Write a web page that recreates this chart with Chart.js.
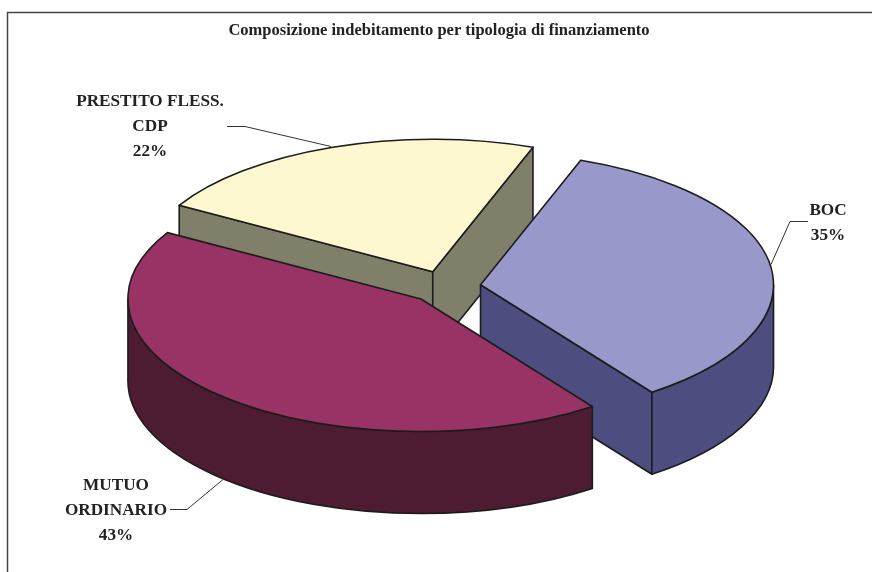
<!DOCTYPE html>
<html>
<head>
<meta charset="utf-8">
<style>html,body{margin:0;padding:0;background:#fff}canvas{display:block}</style>
<script src="https://cdn.jsdelivr.net/npm/chart.js@4"></script>
</head>
<body>
<canvas id="c" width="872" height="572"></canvas>
<script>
const chartTitle = 'Composizione indebitamento per tipologia di finanziamento';
const categories = ['BOC', 'MUTUO ORDINARIO', 'PRESTITO FLESS. CDP'];
const shares = [34.5, 43.3, 22.2];
const labelLines = [['BOC'], ['MUTUO', 'ORDINARIO'], ['PRESTITO FLESS.', 'CDP']];
const topColors = ['#9898cb', '#993366', '#fdf8cf'];
const wallColors = ['#4d4d80', '#4d1c32', '#80806a'];

const view = { cx: 445, cy: 287, rx: 293, ry: 132.5, depth: 82, explode: 0.1224 };
const ink = '#1c1c1c', serif = '"Liberation Serif","Times New Roman",serif';
const labelBoxes = [
  { x: 828, y: 210.5, leader: [[808, 221], [790, 221], [771, 264]] },
  { x: 116, y: 485.5, leader: [[170, 509], [187, 509], [223, 479]] },
  { x: 150, y: 102, leader: [[227, 126], [245, 126], [331, 146]] }
];

const pie3d = {
  id: 'pie3d',
  beforeDraw(chart) {
    const c = chart.ctx;
    c.save();
    c.strokeStyle = '#444'; c.lineWidth = 1.5;
    c.beginPath(); c.moveTo(7.5, 572); c.lineTo(7.5, 12.5); c.lineTo(872, 12.5); c.stroke();
    c.restore();
  },
  beforeDatasetsDraw(chart) {
    const c = chart.ctx, arcs = chart.getDatasetMeta(0).data;
    const base = { x: arcs[0].x, y: arcs[0].y };
    const geo = arcs.map((el, i) => {
      const p = el.getProps(['startAngle', 'endAngle', 'outerRadius'], true);
      const mid = (p.startAngle + p.endAngle) / 2, o = view.explode * p.outerRadius;
      el.x = base.x + o * Math.cos(mid);
      el.y = base.y + o * Math.sin(mid);
      const sx = view.rx / p.outerRadius, sy = view.ry / p.outerRadius;
      return { i, p, mid, sx, sy, x: view.cx + sx * o * Math.cos(mid), y: view.cy + sy * o * Math.sin(mid) };
    });
    chart.$geo = geo;
    const d = view.depth;
    [...geo].sort((a, b) => Math.sin(a.mid) - Math.sin(b.mid)).forEach(g => {
      const a0 = g.p.startAngle, a1 = g.p.endAngle;
      const face = a => {
        const px = g.x + view.rx * Math.cos(a), py = g.y + view.ry * Math.sin(a);
        c.beginPath(); c.moveTo(g.x, g.y); c.lineTo(px, py); c.lineTo(px, py + d); c.lineTo(g.x, g.y + d); c.closePath();
        c.fill(); c.stroke();
      };
      c.save();
      c.fillStyle = wallColors[g.i]; c.strokeStyle = ink; c.lineWidth = 1.6; c.lineJoin = 'round';
      if (Math.sin(a0 - Math.PI / 2) > 0) face(a0);
      if (Math.sin(a1 + Math.PI / 2) > 0) face(a1);
      for (let k = -1; k <= 2; k++) {
        const lo = Math.max(a0, k * 2 * Math.PI), hi = Math.min(a1, k * 2 * Math.PI + Math.PI);
        if (hi > lo) {
          c.beginPath();
          c.ellipse(g.x, g.y, view.rx, view.ry, 0, lo, hi);
          c.ellipse(g.x, g.y + d, view.rx, view.ry, 0, hi, lo, true);
          c.closePath(); c.fill(); c.stroke();
        }
      }
      c.restore();
    });
    const first = geo[0];
    c.save();
    c.translate(view.cx, view.cy);
    c.scale(first.sx, first.sy);
    c.translate(-base.x, -base.y);
  },
  afterDatasetsDraw(chart) {
    const c = chart.ctx;
    c.restore();
    c.save();
    c.strokeStyle = ink; c.lineWidth = 1.6; c.lineJoin = 'round';
    chart.$geo.forEach(g => {
      c.beginPath();
      c.moveTo(g.x, g.y);
      c.ellipse(g.x, g.y, view.rx, view.ry, 0, g.p.startAngle, g.p.endAngle);
      c.closePath(); c.stroke();
    });
    c.restore();
    c.save();
    c.fillStyle = '#222'; c.textAlign = 'center'; c.textBaseline = 'middle';
    c.font = 'bold 17.2px ' + serif;
    labelBoxes.forEach((b, i) => {
      const lines = [...labelLines[i], Math.round(shares[i]) + '%'];
      lines.forEach((t, n) => c.fillText(t, b.x, b.y + n * 25));
      c.strokeStyle = '#333'; c.lineWidth = 1;
      c.beginPath();
      b.leader.forEach(([x, y], n) => n ? c.lineTo(x, y + .5) : c.moveTo(x, y + .5));
      c.stroke();
    });
    c.restore();
  }
};

new Chart(document.getElementById('c'), {
  type: 'pie',
  data: {
    labels: categories,
    datasets: [{
      data: shares,
      backgroundColor: topColors,
      borderWidth: 0,
      clip: false
    }]
  },
  options: {
    responsive: false,
    animation: false,
    rotation: 20,
    layout: { padding: { left: 6, top: 0 } },
    plugins: {
      legend: { display: false },
      tooltip: { enabled: false },
      title: {
        display: true, text: chartTitle, color: '#222',
        font: { family: serif, size: 16.5, weight: 'bold' },
        padding: { top: 21, bottom: 10 }
      }
    }
  },
  plugins: [pie3d]
});
</script>
</body>
</html>
